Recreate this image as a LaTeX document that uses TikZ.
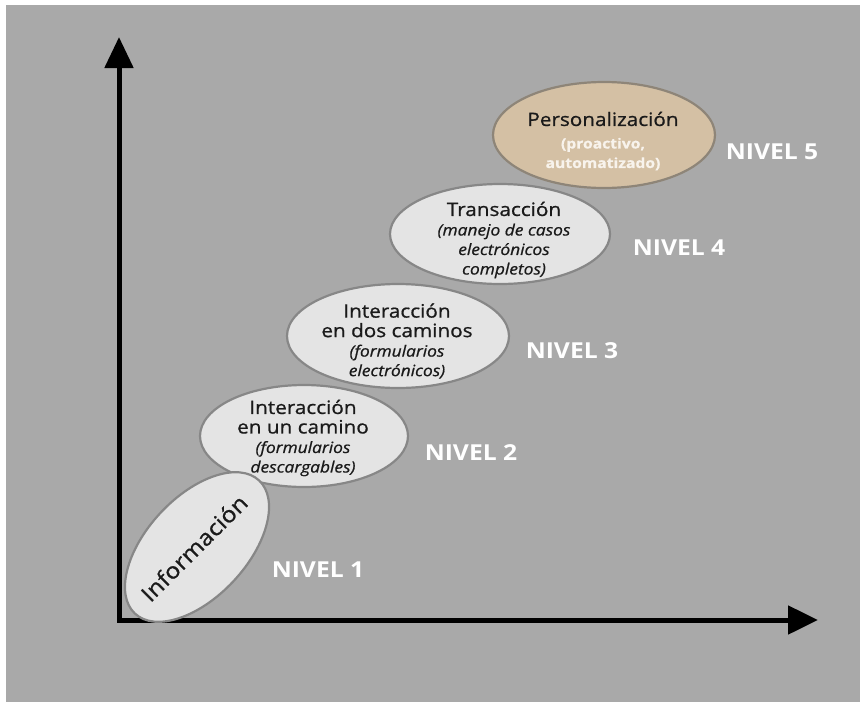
\documentclass[tikz,border=0pt]{standalone}
\usepackage{fontspec}
\setmainfont{Open Sans}[FakeStretch=1.12]
\newfontfamily\lvlfont{Open Sans}[FakeStretch=1.12, FakeBold=0.8]
\usetikzlibrary{arrows.meta,shapes.geometric}

\definecolor{panel}{HTML}{A9A9A9}
\definecolor{lvlfill}{HTML}{E4E4E4}
\definecolor{lvledge}{HTML}{878787}
\definecolor{tanfill}{HTML}{D4C0A4}
\definecolor{tanedge}{HTML}{8E8578}
\definecolor{ink}{HTML}{1A1A1A}
\definecolor{softwhite}{HTML}{F8F3EC}

\tikzset{
  axis/.style={line width=5pt, line join=miter,
    {Triangle[length=31pt,width=28pt]}-{Triangle[length=30pt,width=28pt]}},
  lvl/.style={ellipse, draw=lvledge, fill=lvlfill, line width=2.2pt, inner sep=0pt},
  toplvl/.style={lvl, draw=tanedge, fill=tanfill},
  lvltext/.style={align=center, text=ink, inner sep=0pt,
    font=\lvlfont\fontsize{18.5}{19.5}\selectfont},
  nivel/.style={text=white, inner sep=0pt, font=\fontsize{22}{24}\selectfont\bfseries}
}
\newcommand{\subit}{\fontsize{15.5}{19.5}\selectfont\itshape}
\newcommand{\subup}{\fontsize{14}{18}\selectfont}

\begin{document}
\begin{tikzpicture}[x=1pt,y=-1pt]
  % page and grey panel
  \fill[white] (0,0) rectangle (860,702);
  \fill[panel] (6,5) rectangle (860,702);
  \useasboundingbox (0,0) rectangle (860,702);

  % axes
  \coordinate (ytip) at (119,37);
  \coordinate (orig) at (119,620);
  \coordinate (xtip) at (818,620);
  \draw[axis] (ytip) -- (orig) -- (xtip);

  % level ellipses, upper levels first so lower ones sit on top
  \node[toplvl, minimum width=222pt, minimum height=106pt] (e5) at (604,135) {};
  \node[lvl, minimum width=220pt, minimum height=100pt] (e4) at (500,234) {};
  \node[lvl, minimum width=222pt, minimum height=104pt] (e3) at (398,336) {};
  \node[lvl, minimum width=208pt, minimum height=102pt] (e2) at (304,436) {};
  \node[lvl, minimum width=182pt, minimum height=100pt, rotate=47] (e1) at (197,547) {};

  % ellipse texts
  \node[lvltext, rotate=45, font=\lvlfont\fontsize{22}{24}\selectfont] (t1) at (194,548) {Información};
  \node[lvltext] (t2) at (303,438) {Interacción\\en un camino\\{\subit (formularios}\\{\subit descargables)}};
  \node[lvltext] (t3) at (397,341) {Interacción\\en dos caminos\\{\subit (formularios}\\{\subit electrónicos)}};
  \node[lvltext] (t4) at (504,240) {Transacción\\{\subit (manejo de casos}\\{\subit electrónicos}\\{\subit completos)}};
  \node[lvltext] (t5) at (603,141) {Personalización\\[3pt]{\subup\bfseries\color{softwhite}(proactivo,}\\{\subup\bfseries\color{softwhite}automatizado)}};

  % level labels
  \node[nivel] (n1) at (318,570) {NIVEL 1};
  \node[nivel] (n2) at (471,453) {NIVEL 2};
  \node[nivel] (n3) at (572,351) {NIVEL 3};
  \node[nivel] (n4) at (679,248) {NIVEL 4};
  \node[nivel] (n5) at (772,152) {NIVEL 5};
\end{tikzpicture}
\end{document}
